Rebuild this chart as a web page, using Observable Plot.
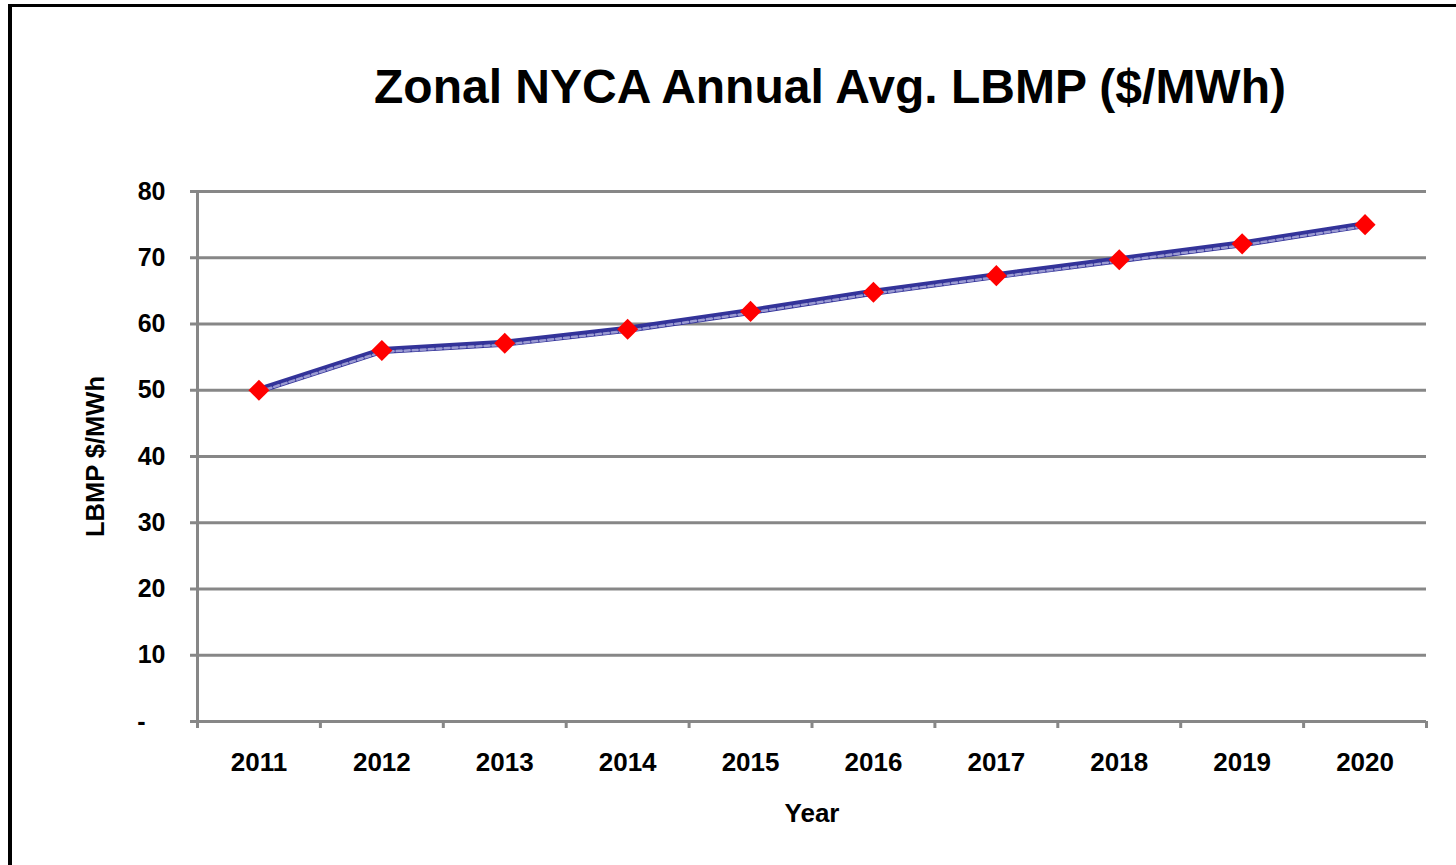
<!DOCTYPE html>
<html>
<head>
<meta charset="utf-8">
<script src="https://cdn.jsdelivr.net/npm/d3@7"></script>
<script src="https://cdn.jsdelivr.net/npm/@observablehq/plot@0.6"></script>
<style>
  html, body { margin: 0; padding: 0; background: #fff; }
  body { width: 1456px; height: 865px; position: relative; overflow: hidden; font-family: "Liberation Sans", Arial, sans-serif; }
  #frame { position: absolute; left: 8px; top: 4px; width: 1500px; height: 900px; border-left: 4px solid #000; border-top: 3px solid #000; box-sizing: border-box; }
  #title { position: absolute; top: 63px; left: 204px; width: 1252px; text-align: center; font-size: 48px; line-height: 48px; font-weight: bold; color: #000; white-space: nowrap; }
  #chart { position: absolute; left: 0; top: 0; }
</style>
</head>
<body>
<div id="frame"></div>
<div id="title">Zonal NYCA Annual Avg. LBMP ($/MWh)</div>
<div id="chart"></div>
<script>
const years = [2011, 2012, 2013, 2014, 2015, 2016, 2017, 2018, 2019, 2020];
const lbmp = [50.0, 56.0, 57.1, 59.2, 61.9, 64.8, 67.3, 69.7, 72.1, 75.0];
const yTicks = [0, 10, 20, 30, 40, 50, 60, 70, 80];
const yTickLabels = ["-", "10", "20", "30", "40", "50", "60", "70", "80"];
const xLabel = "Year";
const yLabel = "LBMP $/MWh";

const data = years.map((yr, i) => ({year: yr, value: lbmp[i]}));
const bounds = years.map(y => y - 0.5).concat([years[years.length - 1] + 0.5]);

const gridColor = "#878787";
const font = "Liberation Sans, Arial, sans-serif";

const plot = Plot.plot({
  width: 1456,
  height: 865,
  marginLeft: 197,
  marginRight: 30,
  marginTop: 191,
  marginBottom: 144,
  style: {fontFamily: font, background: "transparent", overflow: "visible"},
  x: {type: "linear", domain: [bounds[0], bounds[bounds.length - 1]], axis: null},
  y: {domain: [0, 80], axis: null},
  marks: [
    Plot.ruleY(yTicks, {stroke: gridColor, strokeWidth: 3}),
    Plot.ruleX([bounds[0]], {stroke: gridColor, strokeWidth: 3}),
    Plot.axisY({ticks: yTicks, tickSize: 7, tickPadding: 25, stroke: gridColor, strokeWidth: 3,
      tickFormat: d => yTickLabels[yTicks.indexOf(d)], fontSize: 25, fontWeight: "bold", fill: "#000", label: null}),
    Plot.axisX({ticks: bounds, tickSize: 7, strokeWidth: 3, stroke: gridColor, tickFormat: () => "", label: null}),
    Plot.axisX({ticks: years, tickSize: 0, tickPadding: 31, tickFormat: d => String(d),
      fontSize: 26, fontWeight: "bold", fill: "#000", label: null}),
    Plot.text([xLabel], {text: d => d, frameAnchor: "bottom", lineAnchor: "middle", textAnchor: "middle", dy: 92, fontSize: 26, fontWeight: "bold", fill: "#000"}),
    Plot.text([yLabel], {text: d => d, frameAnchor: "left", lineAnchor: "middle", textAnchor: "middle", dx: -102, rotate: -90, fontSize: 25.5, fontWeight: "bold", fill: "#000"}),
    Plot.line(data, {x: "year", y: "value", stroke: "#333399", strokeWidth: 7, strokeLinejoin: "round"}),
    Plot.line(data, {x: "year", y: "value", dy: 1.5, stroke: "#9a9ad2", strokeWidth: 2.5, strokeDasharray: "5 3"}),
    Plot.dot(data, {x: "year", y: "value", symbol: "diamond2", r: 9.5, fill: "#ff0000", stroke: "none"})
  ]
});

document.getElementById("chart").appendChild(plot);

// shift the "-" zero label left, as in the reference
d3.select(plot).selectAll("text").filter(function() { return this.textContent === "-"; })
  .attr("dx", -20);
</script>
</body>
</html>
